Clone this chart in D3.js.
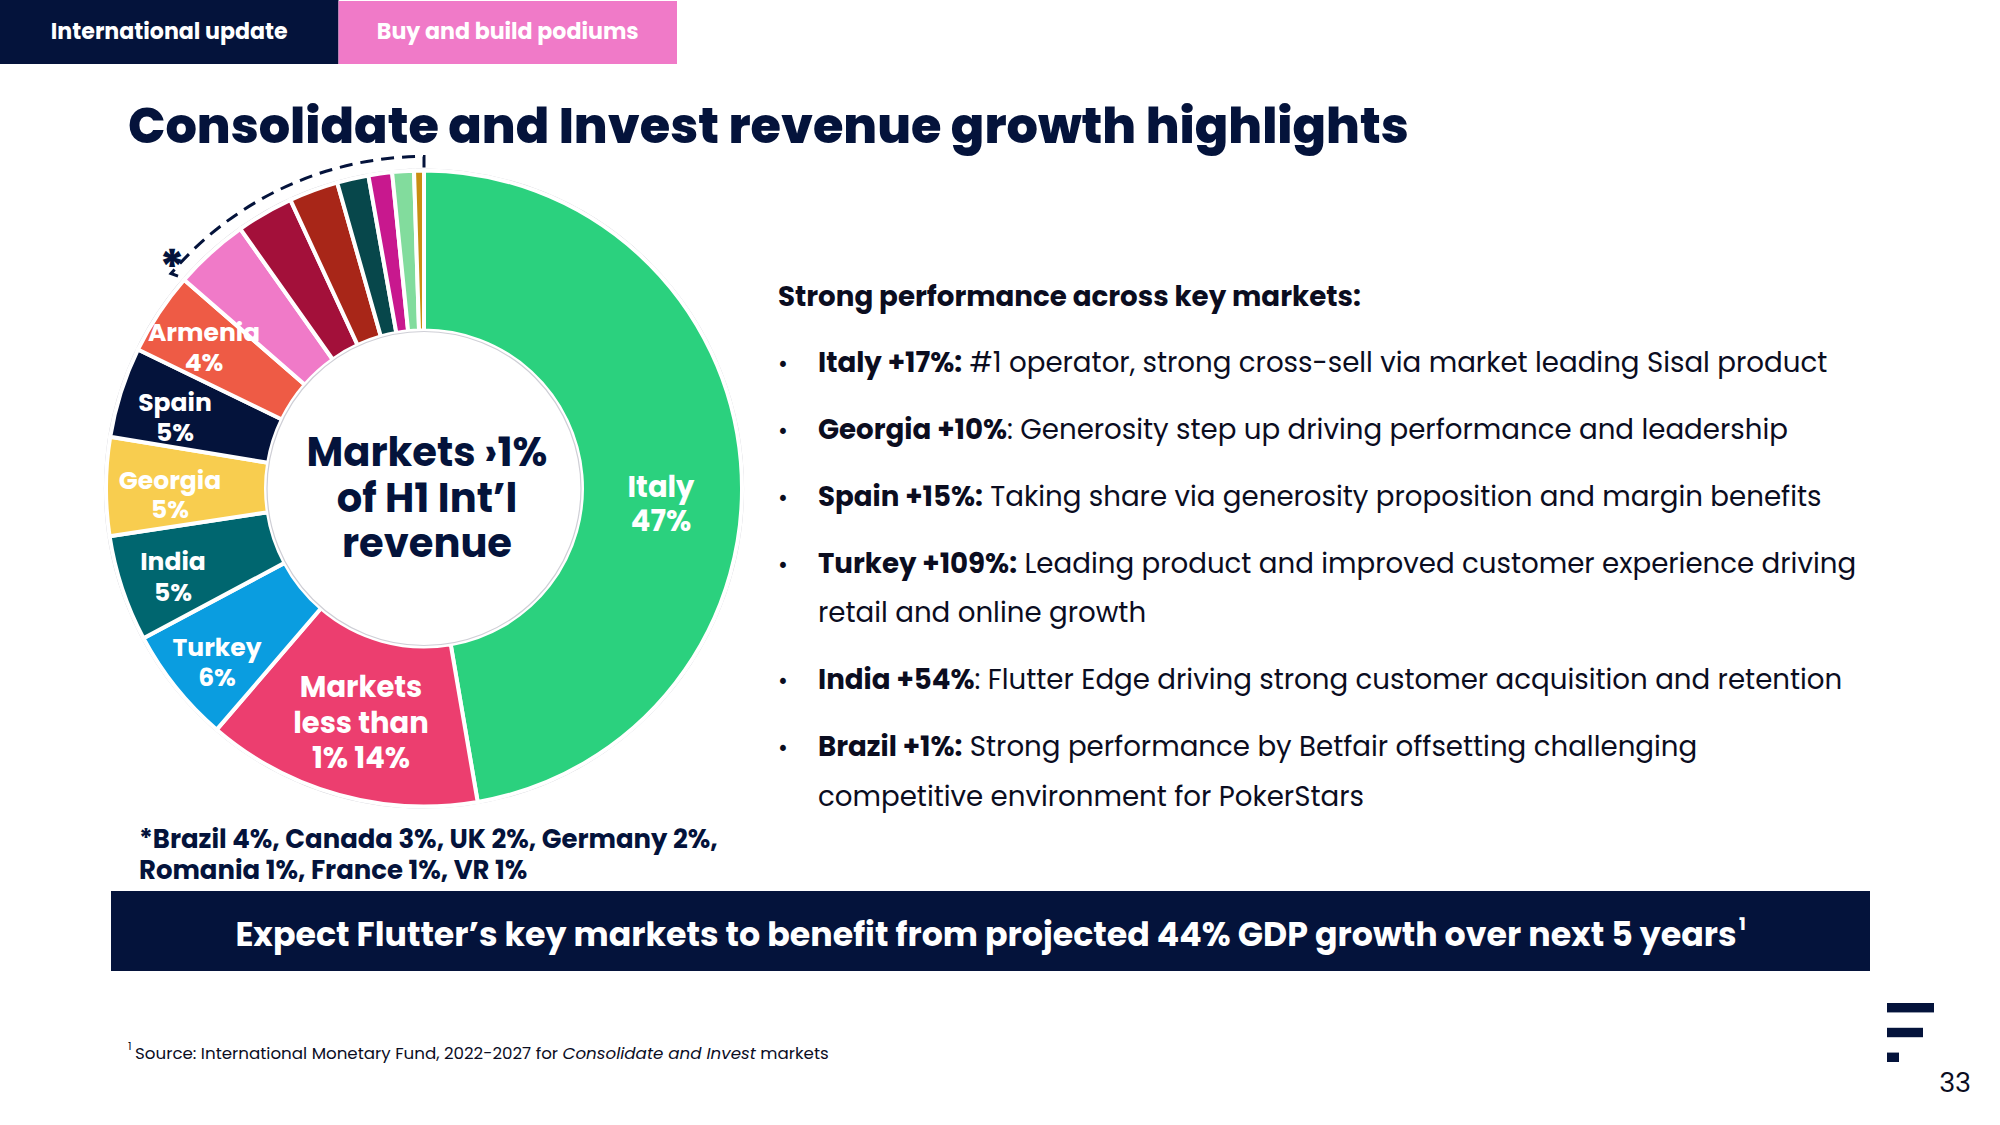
<!DOCTYPE html>
<html>
<head>
<meta charset="utf-8">
<script src="https://cdn.jsdelivr.net/npm/d3@7"></script>
<style>
  html, body { margin: 0; padding: 0; background: #ffffff; }
  svg { display: block; }
  text { font-family: "Poppins", "Open Sans", "Noto Sans", sans-serif; }
</style>
</head>
<body>
<svg id="chart" width="2000" height="1125"></svg>
<script>
// ---------------- DATA ----------------
const segments = ["Italy", "Markets less than 1%", "Turkey", "India", "Georgia", "Spain", "Armenia",
                  "Brazil", "Canada", "UK", "Germany", "Romania", "France", "VR"];
const shares = [47.3, 14.0, 5.9, 5.4, 5.0, 4.6, 4.2, 3.8, 2.9, 2.5, 1.6, 1.2, 1.1, 0.5];
const segmentColors = ["#2bd17e", "#ec3e6f", "#0a9de0", "#00666f", "#f8cd4f", "#04133b", "#ee5b45",
                       "#f07ac8", "#a3103a", "#a82618", "#07474b", "#c8188e", "#82dc9d", "#c98e12"];
const labelLines = {
  "Italy": ["Italy", "47%"],
  "Markets less than 1%": ["Markets", "less than", "1% 14%"],
  "Turkey": ["Turkey", "6%"],
  "India": ["India", "5%"],
  "Georgia": ["Georgia", "5%"],
  "Spain": ["Spain", "5%"],
  "Armenia": ["Armenia", "4%"]
};
const groupedMarkets = ["Brazil", "Canada", "UK", "Germany", "Romania", "France", "VR"];
const centerLines = ["Markets \u203A1%", "of H1 Int\u2019l", "revenue"];
const tabs = ["International update", "Buy and build podiums"];
const titleText = "Consolidate and Invest revenue growth highlights";
const headingText = "Strong performance across key markets:";
const bulletLines = [
  { bullet: true,  parts: [{ b: 1, t: "Italy +17%:" }, { b: 0, t: " #1 operator, strong cross-sell via market leading Sisal product" }] },
  { bullet: true,  parts: [{ b: 1, t: "Georgia +10%" }, { b: 0, t: ": Generosity step up driving performance and leadership" }] },
  { bullet: true,  parts: [{ b: 1, t: "Spain +15%:" }, { b: 0, t: " Taking share via generosity proposition and margin benefits" }] },
  { bullet: true,  parts: [{ b: 1, t: "Turkey +109%:" }, { b: 0, t: " Leading product and improved customer experience driving" }] },
  { bullet: false, parts: [{ b: 0, t: "retail and online growth" }] },
  { bullet: true,  parts: [{ b: 1, t: "India +54%" }, { b: 0, t: ": Flutter Edge driving strong customer acquisition and retention" }] },
  { bullet: true,  parts: [{ b: 1, t: "Brazil +1%:" }, { b: 0, t: " Strong performance by Betfair offsetting challenging" }] },
  { bullet: false, parts: [{ b: 0, t: "competitive environment for PokerStars" }] }
];
const starNote = ["*Brazil 4%, Canada 3%, UK 2%, Germany 2%,", "Romania 1%, France 1%, VR 1%"];
const bannerText = "Expect Flutter\u2019s key markets to benefit from projected 44% GDP growth over next 5 years";
const sourceParts = [{ t: "Source: International Monetary Fund, 2022-2027 for ", i: 0 },
                     { t: "Consolidate and Invest", i: 1 }, { t: " markets", i: 0 }];
const pageNumber = "33";

// ---------------- LAYOUT ----------------
const NAVY = "#04133b";
const INK = "#0b0d1f";
const svg = d3.select("#chart");
svg.append("rect").attr("width", 2000).attr("height", 1125).attr("fill", "#fff");

function fit(sel, target) {
  const w = sel.node().getComputedTextLength();
  const fs = parseFloat(sel.attr("font-size"));
  const nfs = fs * target / w;
  sel.attr("font-size", nfs);
  return nfs;
}

// Tabs
const tabX = d3.scaleBand().domain(tabs).range([0, 677]).padding(0);
const tabFill = ["#04133b", "#f07ac8"];
const tabTarget = [237, 262];
tabs.forEach((t, i) => {
  svg.append("rect").attr("x", tabX(t)).attr("y", i === 0 ? 0 : 1)
    .attr("width", tabX.bandwidth()).attr("height", i === 0 ? 64 : 63).attr("fill", tabFill[i]);
  const tx = svg.append("text").attr("x", tabX(t) + tabX.bandwidth() / 2).attr("y", 39)
    .attr("text-anchor", "middle").attr("font-size", 22).attr("font-weight", 700)
    .attr("fill", "#fff").text(t);
  fit(tx, tabTarget[i]);
});

// Title
const title = svg.append("text").attr("x", 128).attr("y", 143).attr("font-size", 56)
  .attr("font-weight", 800).attr("fill", NAVY).text(titleText);
fit(title, 1281);

// Donut
const cx = 424, cy = 488.5;
const R = 318, r0 = 158;
const pie = d3.pie().sort(null).value(d => d.v).startAngle(0).endAngle(2 * Math.PI);
const data = segments.map((s, i) => ({ s, v: shares[i], c: segmentColors[i] }));
const arcs = pie(data);
const arc = d3.arc().innerRadius(r0).outerRadius(R);
const g = svg.append("g").attr("transform", `translate(${cx},${cy})`);

g.append("circle").attr("r", R + 1.5).attr("fill", "none").attr("stroke", "#cfcfd6").attr("stroke-width", 1.2);
g.selectAll("path.slice").data(arcs).join("path").attr("class", "slice")
  .attr("d", arc).attr("fill", d => d.data.c).attr("stroke", "#fff").attr("stroke-width", 4)
  .attr("stroke-linejoin", "miter");
g.append("circle").attr("r", r0 - 1).attr("fill", "none").attr("stroke", "#cfcfd6").attr("stroke-width", 1.2);

// Dashed bracket over grouped markets
const grouped = arcs.filter(a => groupedMarkets.includes(a.data.s));
const a0 = d3.min(grouped, a => a.startAngle), a1 = d3.max(grouped, a => a.endAngle);
const rb = 332;
const bp = d3.path();
const pt = (rad, ang) => [rad * Math.sin(ang), -rad * Math.cos(ang)];
bp.moveTo(...pt(325, a0 - 0.004));
bp.lineTo(...pt(rb, a0 - 0.012));
bp.arc(0, 0, rb, a0 - 0.012 - Math.PI / 2, a1 - Math.PI / 2, false);
bp.lineTo(...pt(321, a1));
g.append("path").attr("d", bp.toString()).attr("fill", "none").attr("stroke", NAVY)
  .attr("stroke-width", 3).attr("stroke-dasharray", "13,8");
svg.append("text").attr("x", 172).attr("y", 284).attr("text-anchor", "middle")
  .attr("font-size", 47).attr("font-weight", 800).attr("fill", NAVY).text("*");

// Slice labels
const labelLayout = {
  "Italy": { x: 661, y: 497, lh: 34, fs: 29 },
  "Markets less than 1%": { x: 361, y: 697, lh: 35.5, fs: 29 },
  "Turkey": { x: 217, y: 656, lh: 30, fs: 25 },
  "India": { x: 173, y: 570, lh: 31, fs: 25 },
  "Georgia": { x: 170, y: 489, lh: 29, fs: 25 },
  "Spain": { x: 175, y: 411, lh: 30, fs: 25 },
  "Armenia": { x: 204, y: 341, lh: 30, fs: 25 }
};
arcs.forEach(a => {
  const lines = labelLines[a.data.s];
  if (!lines) return;
  const L = labelLayout[a.data.s];
  lines.forEach((ln, k) => {
    svg.append("text").attr("x", L.x).attr("y", L.y + k * L.lh).attr("text-anchor", "middle")
      .attr("font-size", L.fs).attr("font-weight", 700).attr("fill", "#fff").text(ln);
  });
});

// Center text
const centerBase = [466, 512, 557];
centerLines.forEach((t, i) => {
  const ct = svg.append("text").attr("x", 427).attr("y", centerBase[i]).attr("text-anchor", "middle")
    .attr("font-size", 40).attr("font-weight", 700).attr("fill", NAVY).text(t);
  if (i === 0) fit(ct, 241);
});

// Right text block
const heading = svg.append("text").attr("x", 778).attr("y", 306).attr("font-size", 26)
  .attr("font-weight", 700).attr("fill", INK).text(headingText);
fit(heading, 583);

const bulletBase = [372, 439, 506, 573, 622, 689, 756, 806];
let bulletFs = 26;
bulletLines.forEach((ln, i) => {
  const t = svg.append("text").attr("x", 818).attr("y", bulletBase[i]).attr("font-size", bulletFs).attr("fill", INK);
  ln.parts.forEach(p => t.append("tspan").attr("font-weight", p.b ? 700 : 400).text(p.t));
  if (i === 0) bulletFs = fit(t, 1010);
  else t.attr("font-size", bulletFs);
  if (ln.bullet) {
    svg.append("text").attr("x", 783).attr("y", bulletBase[i]).attr("text-anchor", "middle")
      .attr("font-size", 24).attr("fill", INK).text("\u2022");
  }
});

// Star footnote
let starFs = 26;
starNote.forEach((t, i) => {
  const s = svg.append("text").attr("x", 139).attr("y", 848 + i * 31).attr("font-size", starFs)
    .attr("font-weight", 700).attr("fill", NAVY).text(t);
  if (i === 0) starFs = fit(s, 579); else s.attr("font-size", starFs);
});

// Banner
svg.append("rect").attr("x", 111).attr("y", 891).attr("width", 1759).attr("height", 80).attr("fill", NAVY);
const bannerCx = 986, bannerW = 1502;
const bt = svg.append("text").attr("x", bannerCx).attr("y", 946).attr("text-anchor", "middle")
  .attr("font-size", 34).attr("font-weight", 700).attr("fill", "#fff");
bt.append("tspan").text(bannerText);
fit(bt, bannerW);
svg.append("text").attr("x", bannerCx + bannerW / 2 + 2).attr("y", 930).attr("font-size", 18).attr("font-weight", 700)
  .attr("fill", "#fff").text("1");

// Source footnote
svg.append("text").attr("x", 128).attr("y", 1050).attr("font-size", 11).attr("fill", INK).text("1");
const st = svg.append("text").attr("x", 135).attr("y", 1059).attr("font-size", 17).attr("fill", INK);
sourceParts.forEach(p => st.append("tspan").attr("font-style", p.i ? "italic" : "normal").text(p.t));
fit(st, 694);

// Logo + page number
const logoBars = [47, 36, 12];
const logoY = d3.scaleBand().domain(d3.range(3)).range([1003, 1062]).paddingInner(0.62);
svg.selectAll("rect.logo").data(logoBars).join("rect").attr("class", "logo")
  .attr("x", 1887).attr("y", (d, i) => logoY(i)).attr("width", d => d)
  .attr("height", logoY.bandwidth()).attr("fill", NAVY);
svg.append("text").attr("x", 1971).attr("y", 1092).attr("text-anchor", "end")
  .attr("font-family", "Liberation Sans, Arial, sans-serif").attr("font-size", 27)
  .attr("fill", INK).text(pageNumber);
</script>
</body>
</html>
